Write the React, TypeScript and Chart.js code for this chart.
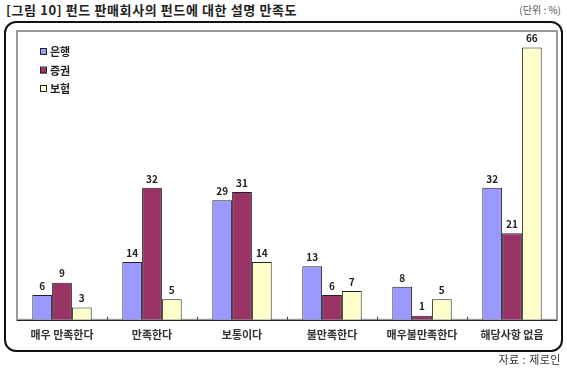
import React, { useEffect, useRef } from "react";
import { Chart, registerables } from "chart.js";

Chart.register(...registerables);

const categories = ["매우 만족한다", "만족한다", "보통이다", "불만족한다", "매우불만족한다", "해당사항 없음"];
const seriesNames = ["은행", "증권", "보험"];
const bankValues = [6, 14, 29, 13, 8, 32];
const securitiesValues = [9, 32, 31, 6, 1, 21];
const insuranceValues = [3, 5, 14, 7, 5, 66];
const colors = ["#9999FF", "#993366", "#FFFFCC"];

const FONT = "'Noto Sans CJK KR', 'Noto Sans', sans-serif";

const decorPlugin = {
  id: "decor",
  beforeDatasetsDraw(chart: any) {
    const { ctx, chartArea } = chart;
    ctx.save();
    ctx.strokeStyle = "#9a9a9a";
    ctx.lineWidth = 2;
    ctx.strokeRect(chartArea.left, chartArea.top, chartArea.right - chartArea.left, chartArea.bottom - chartArea.top);
    const n = categories.length;
    const w = (chartArea.right - chartArea.left) / n;
    ctx.strokeStyle = "#444";
    ctx.lineWidth = 1;
    for (let i = 1; i < n; i++) {
      const x = Math.round(chartArea.left + i * w) + 0.5;
      ctx.beginPath();
      ctx.moveTo(x, chartArea.bottom);
      ctx.lineTo(x, chartArea.bottom - 3);
      ctx.stroke();
    }
    ctx.restore();
  },
  afterDatasetsDraw(chart: any) {
    const { ctx, chartArea } = chart;
    ctx.save();
    ctx.strokeStyle = "#222";
    ctx.lineWidth = 1;
    ctx.beginPath();
    ctx.moveTo(chartArea.left, Math.round(chartArea.bottom) + 0.5);
    ctx.lineTo(chartArea.right, Math.round(chartArea.bottom) + 0.5);
    ctx.stroke();
    ctx.fillStyle = "#222";
    ctx.font = `bold 10px ${FONT}`;
    ctx.textAlign = "center";
    ctx.textBaseline = "bottom";
    chart.data.datasets.forEach((ds: any, di: number) => {
      const meta = chart.getDatasetMeta(di);
      meta.data.forEach((el: any, i: number) => {
        ctx.fillText(String(ds.data[i]), el.x, el.y - 4);
      });
    });
    const lx = chartArea.left + 23;
    let ly = chartArea.top + 21;
    ctx.textAlign = "left";
    ctx.textBaseline = "middle";
    ctx.font = `bold 11px ${FONT}`;
    seriesNames.forEach((name, i) => {
      ctx.fillStyle = colors[i];
      ctx.fillRect(lx, ly - 3, 6, 6);
      ctx.strokeStyle = "#222";
      ctx.lineWidth = 1;
      ctx.strokeRect(lx + 0.5, ly - 3.5, 6, 6);
      ctx.fillStyle = "#222";
      ctx.fillText(name, lx + 10, ly);
      ly += 18.5;
    });
    ctx.restore();
  },
};

export default function App() {
  const ref = useRef<HTMLCanvasElement | null>(null);
  useEffect(() => {
    if (!ref.current) return;
    const chart = new Chart(ref.current, {
      type: "bar",
      data: {
        labels: categories,
        datasets: [bankValues, securitiesValues, insuranceValues].map((d, i) => ({
          label: seriesNames[i],
          data: d,
          backgroundColor: colors[i],
          borderColor: "#222",
          borderWidth: 1,
          barPercentage: 1,
          categoryPercentage: 0.66,
        })),
      },
      options: {
        animation: false,
        responsive: false,
        maintainAspectRatio: false,
        layout: { padding: { left: 17, right: 10, top: 31, bottom: 19 } },
        plugins: { legend: { display: false }, tooltip: { enabled: false } },
        scales: {
          x: {
            grid: { display: false, drawTicks: false },
            border: { display: false },
            ticks: { color: "#333", font: { family: FONT, size: 11, weight: "bold" }, padding: 8, maxRotation: 0, autoSkip: false },
          },
          y: { display: false, min: 0, max: 70 },
        },
      },
      plugins: [decorPlugin],
    });
    return () => chart.destroy();
  }, []);

  return (
    <div style={{ position: "absolute", left: 0, top: 0, width: 567, height: 368, background: "#fff", overflow: "hidden", fontFamily: FONT }}>
      <div style={{ position: "absolute", left: 6, top: 2, fontSize: 13, fontWeight: "bold", color: "#222", lineHeight: "16px", letterSpacing: 0.6 }}>
        [그림 10] 펀드 판매회사의 펀드에 대한 설명 만족도
      </div>
      <div style={{ position: "absolute", right: 6, top: 3, fontSize: 10, color: "#555", lineHeight: "14px" }}>(단위 : %)</div>
      <div style={{ position: "absolute", left: 4, top: 21, width: 555, height: 327, border: "2px solid #111", borderRadius: 12 }} />
      <canvas ref={ref} width={567} height={368} style={{ position: "absolute", left: 0, top: 0 }} />
      <div style={{ position: "absolute", right: 6, top: 352, fontSize: 11, color: "#333", lineHeight: "14px", letterSpacing: 0.5 }}>자료 : 제로인</div>
    </div>
  );
}
